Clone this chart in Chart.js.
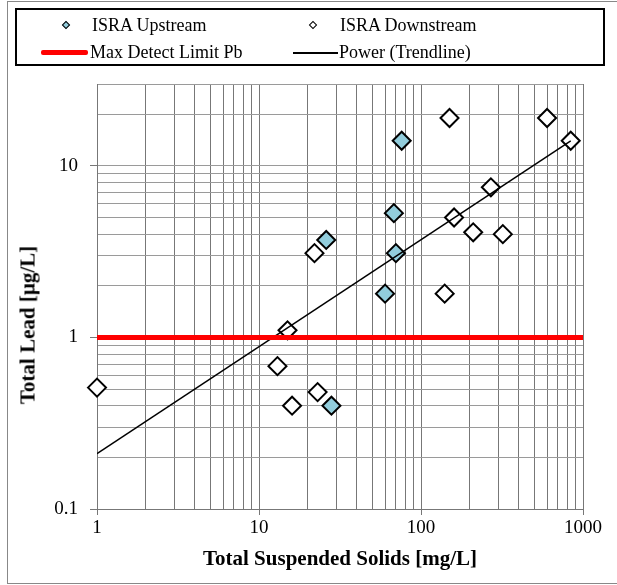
<!DOCTYPE html>
<html>
<head>
<meta charset="utf-8">
<script src="https://cdn.jsdelivr.net/npm/chart.js@4.4.0/dist/chart.umd.min.js"></script>
<style>
  html, body { margin: 0; padding: 0; background: #fff; }
  #wrap { position: relative; width: 617px; height: 585px; overflow: hidden; }
  #frame { position: absolute; left: 7px; top: 1px; width: 620px; height: 583px; border: 1px solid #888; box-sizing: border-box; }
  #chart { position: absolute; left: 0; top: 0; }
  #legend { position: absolute; left: 15px; top: 8px; width: 590px; height: 58px; border: 2px solid #000; box-sizing: border-box; }
  .txt { position: absolute; font-family: 'Liberation Serif', 'Times New Roman', serif; font-size: 18px; line-height: 22px; color: #000; white-space: nowrap; }
  .mk { position: absolute; width: 6px; height: 6px; border: 1.5px solid #000; box-sizing: border-box; transform: rotate(45deg); }
  .ln { position: absolute; }
  #ytitle { position: absolute; left: 28px; top: 325px; font-family: 'Liberation Serif', 'Times New Roman', serif; font-size: 21px; font-weight: bold; line-height: 21px; white-space: nowrap; color: #000; transform: translate(-50%, -50%) rotate(-90deg); }
</style>
</head>
<body>
<div id="wrap">
  <div id="frame"></div>
  <canvas id="chart" width="617" height="585"></canvas>
  <div id="legend"></div>
  <div class="mk" style="left:63px; top:22px; background:#92CDDC;"></div>
  <div class="txt" style="left:92px; top:14px;">ISRA Upstream</div>
  <div class="mk" style="left:310px; top:22px; background:#fff;"></div>
  <div class="txt" style="left:340px; top:14px;">ISRA Downstream</div>
  <div class="ln" style="left:41px; top:50px; width:47px; height:5px; background:#ff0000; border-radius:2px;"></div>
  <div class="txt" style="left:90px; top:41px;">Max Detect Limit Pb</div>
  <div class="ln" style="left:293px; top:52px; width:45px; height:1.5px; background:#000;"></div>
  <div class="txt" style="left:339px; top:41px;">Power (Trendline)</div>
  <div id="ytitle">Total Lead [µg/L]</div>
</div>
<script>
// values
const xUpstream = [76, 68, 26, 70, 60, 28];
const yUpstream = [14, 5.3, 3.7, 3.1, 1.8, 0.4];

const xDownstream = [1, 13, 15, 16, 22, 23, 140, 150, 160, 210, 270, 320, 600, 840];
const yDownstream = [0.51, 0.68, 1.1, 0.4, 3.1, 0.48, 1.8, 19, 5, 4.1, 7.5, 4, 19, 14];

const xLimit = [1, 1000];
const yLimit = [1, 1];

const xTrend = [1, 840];
const yTrend = [0.21, 14];

const xTickLabels = [1, 10, 100, 1000];
const yTickLabels = [0.1, 1, 10];

// grid lines at every 1..9 step of each decade
function decadeSteps(decades, last) {
    const out = [];
    decades.forEach(d => {
        for (let k = 1; k <= 9; k++) out.push(Number((k * d).toPrecision(3)));
    });
    return out.concat(last);
}
const xGrid = decadeSteps([1, 10, 100], [1000]);
const yGrid = decadeSteps([0.1, 1], [10, 20, 30]);

const toPts = (xs, ys) => xs.map((x, i) => ({ x: x, y: ys[i] }));
const serif = "'Liberation Serif', 'Times New Roman', serif";
const gridX = '#777777';
const gridY = '#9a9a9a';

new Chart(document.getElementById('chart'), {
    type: 'scatter',
    data: {
        datasets: [
            {
                label: 'Max Detect Limit Pb',
                data: toPts(xLimit, yLimit),
                showLine: true,
                borderColor: '#ff0000',
                borderWidth: 5,
                pointRadius: 0,
                order: 0
            },
            {
                label: 'Power (Trendline)',
                data: toPts(xTrend, yTrend),
                showLine: true,
                borderColor: '#000',
                borderWidth: 1.5,
                pointRadius: 0,
                order: 1
            },
            {
                label: 'ISRA Upstream',
                data: toPts(xUpstream, yUpstream),
                pointStyle: 'rectRot',
                pointRadius: 9,
                borderWidth: 2,
                borderColor: '#000',
                backgroundColor: '#92CDDC',
                clip: false,
                order: 2
            },
            {
                label: 'ISRA Downstream',
                data: toPts(xDownstream, yDownstream),
                pointStyle: 'rectRot',
                pointRadius: 9,
                borderWidth: 2,
                borderColor: '#000',
                backgroundColor: '#fff',
                clip: false,
                order: 3
            }
        ]
    },
    options: {
        responsive: false,
        animation: false,
        layout: { padding: { top: 84, right: 34, bottom: 0, left: 0 } },
        plugins: { legend: { display: false }, tooltip: { enabled: false } },
        scales: {
            x: {
                type: 'logarithmic',
                min: 1,
                max: 1000,
                afterBuildTicks: s => { s.ticks = xGrid.map(v => ({ value: v })); },
                afterFit: s => { s.height = 76; },
                ticks: {
                    autoSkip: false,
                    maxRotation: 0,
                    padding: 2,
                    color: '#000',
                    font: { family: serif, size: 19 },
                    callback: v => xTickLabels.includes(v) ? String(v) : ''
                },
                grid: {
                    color: gridX,
                    tickLength: 6,
                    tickColor: c => (c.tick && xTickLabels.includes(c.tick.value)) ? gridX : 'rgba(0,0,0,0)'
                },
                border: { color: gridX },
                title: {
                    display: true,
                    text: 'Total Suspended Solids [mg/L]',
                    color: '#000',
                    font: { family: serif, size: 21, weight: 'bold' },
                    padding: { top: 0, bottom: 13 }
                }
            },
            y: {
                type: 'logarithmic',
                min: 0.1,
                max: 30,
                afterBuildTicks: s => { s.ticks = yGrid.map(v => ({ value: v })); },
                afterFit: s => { s.width = 97; },
                ticks: {
                    autoSkip: false,
                    padding: 12,
                    color: '#000',
                    font: { family: serif, size: 19 },
                    callback: v => yTickLabels.includes(v) ? String(v) : ''
                },
                grid: {
                    color: gridY,
                    tickLength: 7,
                    tickColor: c => (c.tick && yTickLabels.includes(c.tick.value)) ? gridX : 'rgba(0,0,0,0)'
                },
                border: { color: gridX }
            }
        }
    }
});
</script>
</body>
</html>
